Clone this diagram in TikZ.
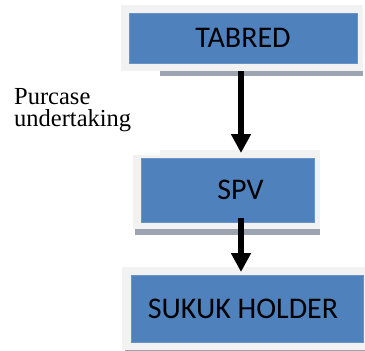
\documentclass[tikz,border=0pt]{standalone}
\usepackage{fontspec}
\usetikzlibrary{arrows.meta}
\setmainfont{Liberation Serif}
\newfontfamily\boxfont{Carlito}
\definecolor{boxblue}{HTML}{4F81BD}
\definecolor{framegray}{HTML}{F2F2F2}
\definecolor{shadowgray}{HTML}{9BA4B0}
\begin{document}
\begin{tikzpicture}[x=1pt,y=-1pt,
  frame/.style={fill=framegray,draw=none},
  shade band/.style={fill=shadowgray,draw=none},
  bluebox/.style={fill=boxblue,draw=boxblue!85!white,line width=0.6pt,
    inner sep=0pt,font=\boxfont\fontsize{30}{32}\selectfont,text=black},
  flow/.style={line width=6pt,-{Triangle[width=19pt,length=19pt]}},
  note/.style={font=\fontsize{24.5}{22.5}\selectfont,align=left,anchor=north west,inner sep=0pt}]
\useasboundingbox (0,0) rectangle (365,351);
% grey panels behind the boxes, with their lower shadow bands
\fill[shade band] (160,71) rectangle (363,76);
\fill[frame] (121,5) rectangle (363,71);
\fill[shade band] (135,229) rectangle (320,235);
\fill[frame] (160,150) rectangle (320,158);
\fill[frame] (133,155) rectangle (320,229);
\fill[shade band] (125,349) rectangle (365,351);
\fill[frame] (122,267) rectangle (365,349.5);
% anchor points of the panel edges
\coordinate (tabredfoot) at (241,71);
\coordinate (spvtop) at (241,153);
\coordinate (spvfoot) at (241,218);
\coordinate (holdertop) at (241,272);
% the three boxes
\node[bluebox,minimum width=228pt,minimum height=50pt] (tabred) at (243,38)
  {\raisebox{-4pt}{TABRED}};
\node[bluebox,minimum width=173pt,minimum height=64pt] (spv) at (227.5,190)
  {\hspace*{26pt}\raisebox{-1pt}{SPV}};
\node[bluebox,minimum width=232pt,minimum height=67pt] (holder) at (247,308.5)
  {\hspace*{-8pt}\raisebox{-2pt}{SUKUK HOLDER}};
% flow arrows
\draw[flow] (tabredfoot) -- (spvtop);
\draw[flow] (spvfoot) -- (holdertop);
% side note
\node[note] (purchase) at (14,88) {Purcase\\undertaking};
\end{tikzpicture}
\end{document}
